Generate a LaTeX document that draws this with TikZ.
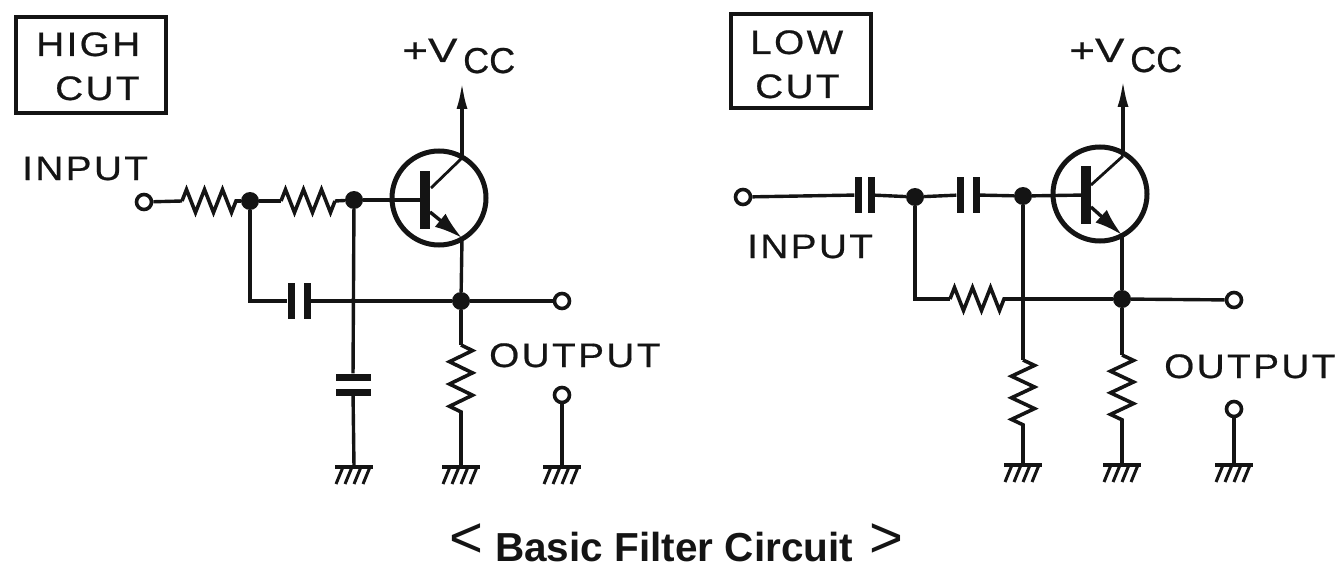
\documentclass[tikz,border=0pt]{standalone}
\usepackage{fontspec}
\setmainfont{Liberation Sans}
\newfontfamily\spaced[LetterSpace=7,FakeStretch=1.14,FakeBold=0.6]{Liberation Sans}
\newfontfamily\widevolt[FakeStretch=1.3,FakeBold=0.6]{Liberation Sans}
\newfontfamily\plainheavy[FakeBold=0.6]{Liberation Sans}
\usetikzlibrary{arrows.meta,decorations.pathmorphing}
\definecolor{ink}{gray}{0.08}
\tikzset{
  wire/.style={draw=ink,line width=3.4pt},
  res/.style={draw=ink,line width=3.6pt,line join=miter,decorate,decoration={zigzag,segment length=#1,amplitude=11.5pt}},
  res/.default=18pt,
  junction/.style={circle,fill=ink,inner sep=0pt,minimum size=18pt},
  terminal/.style={circle,draw=ink,fill=white,line width=3.6pt,inner sep=0pt,minimum size=15pt},
  tcircle/.style={circle,draw=ink,line width=5pt,inner sep=0pt,minimum size=94pt},
  bar/.style={rectangle,fill=ink,inner sep=0pt,minimum width=10pt,minimum height=58pt},
  vplate/.style={rectangle,fill=ink,inner sep=0pt,minimum width=7pt,minimum height=36pt},
  hplate/.style={rectangle,fill=ink,inner sep=0pt,minimum width=35pt,minimum height=7pt},
  lbl/.style={inner sep=0pt,anchor=base west,text=ink,font=\fontsize{34}{38}\selectfont\spaced},
  voltl/.style={inner sep=0pt,anchor=base west,text=ink,font=\fontsize{34}{38}\selectfont\widevolt},
  subl/.style={inner sep=0pt,anchor=base west,text=ink,font=\fontsize{36}{38}\selectfont\plainheavy},
  framebox/.style={draw=ink,line width=3.4pt,inner sep=0pt},
  uptip/.style={-{Latex[length=27pt,width=11pt]}},
  emtip/.style={-{Latex[length=28pt,width=17pt]}},
  gnd/.pic={
    \draw[ink,line width=4.5pt] (-19,0) -- (19,0);
    \foreach \h in {-11,-2,7,16}{\draw[ink,line width=3pt] (\h,0) -- (\h-7,17);}
  }
}
\begin{document}
\begin{tikzpicture}[x=1pt,y=-1pt]
\useasboundingbox (0,0) rectangle (1338,567);
% ---------- HIGH CUT ----------
\node[framebox,minimum width=150pt,minimum height=96pt] (boxa) at (91,65) {};
\node[lbl] (higha) at (36,56) {HIGH};
\node[lbl] (cuta) at (55,100) {CUT};
\node[lbl] (inputa) at (22,180) {INPUT};
\node[lbl] (outputa) at (489,367) {OUTPUT};
\node[voltl] (vcca) at (402,62) {+V};
\node[subl] (cca) at (463,73) {CC};
\node[terminal] (ina) at (144,202) {};
\node[junction] (ja) at (250,201) {};
\node[junction] (jb) at (354,200) {};
\node[junction] (jc) at (461,301) {};
\node[terminal] (outa) at (562,301) {};
\node[terminal] (outb) at (562,395) {};
\node[tcircle] (qa) at (439,198) {};
\node[bar] (ba) at (425,200) {};
\coordinate (ra1) at (182,201);\coordinate (ra2) at (238,201);
\coordinate (rb1) at (281,201);\coordinate (rb2) at (335,201);
\coordinate (rc1) at (461,345);\coordinate (rc2) at (461,412);
\coordinate (cola) at (431,188);\coordinate (colb) at (462,158);
\coordinate (tipa) at (462,82);
\coordinate (ema) at (430,212);\coordinate (emb) at (462,238);
\node[vplate] (pa) at (291,301) {};
\node[vplate] (pb) at (307,301) {};
\node[hplate] (pc) at (353,377) {};
\node[hplate] (pd) at (353,392) {};
\coordinate (ga) at (354,467);\coordinate (gb) at (461,467);\coordinate (gc) at (562,467);
\pic at (ga) {gnd};\pic at (gb) {gnd};\pic at (gc) {gnd};
\draw[wire] (ina) -- (ra1);
\draw[res] (ra1) -- (ra2);
\draw[wire] (ra2) -- (ja);
\draw[wire] (ja) -- (rb1);
\draw[res] (rb1) -- (rb2);
\draw[wire] (rb2) -- (jb);
\draw[wire] (jb) -- (ba);
\draw[wire] (ja) |- (pa);
\draw[wire] (pb) -- (jc);
\draw[wire] (jc) -- (outa);
\draw[wire] (jb) -- (pc);
\draw[wire] (pd) -- (ga);
\draw[wire,line width=2.8pt] (cola) -- (colb);
\draw[wire,uptip] (colb) -- (tipa);
\draw[wire,emtip] (ema) -- (emb);
\draw[wire] (emb) -- (jc);
\draw[wire] (jc) -- (rc1);
\draw[res=22.3pt] (rc1) -- (rc2);
\draw[wire] (rc2) -- (gb);
\draw[wire] (outb) -- (gc);
% ---------- LOW CUT ----------
\node[framebox,minimum width=140pt,minimum height=94pt] (boxb) at (801,61) {};
\node[lbl] (lowb) at (750,54) {LOW};
\node[lbl] (cutb) at (755,98) {CUT};
\node[lbl] (inputb) at (747,258) {INPUT};
\node[lbl] (outputb) at (1164,378) {OUTPUT};
\node[voltl] (vccb) at (1069,62) {+V};
\node[subl] (ccb) at (1130,72) {CC};
\node[terminal] (inb) at (743,197) {};
\node[junction] (jd) at (915,197) {};
\node[junction] (je) at (1023,196) {};
\node[junction] (jf) at (1122,299) {};
\node[terminal] (outc) at (1234,300) {};
\node[terminal] (outd) at (1234,409) {};
\node[tcircle] (qb) at (1100,194) {};
\node[bar] (bb) at (1086,195) {};
\node[vplate] (pe) at (858,195) {};
\node[vplate] (pf) at (871,195) {};
\node[vplate] (pg) at (960,195) {};
\node[vplate] (ph) at (976,195) {};
\coordinate (rd1) at (950,299);\coordinate (rd2) at (1005,299);
\coordinate (re1) at (1023,360);\coordinate (re2) at (1023,425);
\coordinate (rf1) at (1122,355);\coordinate (rf2) at (1122,420);
\coordinate (colc) at (1091,185);\coordinate (cold) at (1123,156);
\coordinate (tipb) at (1123,80);
\coordinate (emc) at (1091,207);\coordinate (emd) at (1122,235);
\coordinate (gd) at (1023,465);\coordinate (ge) at (1122,465);\coordinate (gf) at (1234,465);
\pic at (gd) {gnd};\pic at (ge) {gnd};\pic at (gf) {gnd};
\draw[wire] (inb) -- (pe);
\draw[wire] (pf) -- (jd);
\draw[wire] (jd) -- (pg);
\draw[wire] (ph) -- (je);
\draw[wire] (je) -- (bb);
\draw[wire] (jd) |- (rd1);
\draw[res] (rd1) -- (rd2);
\draw[wire] (rd2) -- (jf);
\draw[wire] (jf) -- (outc);
\draw[wire] (je) -- (re1);
\draw[res=21.6pt] (re1) -- (re2);
\draw[wire] (re2) -- (gd);
\draw[wire,line width=2.8pt] (colc) -- (cold);
\draw[wire,uptip] (cold) -- (tipb);
\draw[wire,emtip] (emc) -- (emd);
\draw[wire] (emd) -- (jf);
\draw[wire] (jf) -- (rf1);
\draw[res=21.6pt] (rf1) -- (rf2);
\draw[wire] (rf2) -- (ge);
\draw[wire] (outd) -- (gf);
% ---------- caption ----------
\node[inner sep=0pt,anchor=base,text=ink,font=\fontsize{58}{62}\selectfont] (lt) at (466,557) {<};
\node[inner sep=0pt,anchor=base west,text=ink,font=\fontsize{40.5}{44}\selectfont\bfseries] (cap) at (495,561) {Basic Filter Circuit};
\node[inner sep=0pt,anchor=base,text=ink,font=\fontsize{58}{62}\selectfont] (gt) at (886,557) {>};
\end{tikzpicture}
\end{document}
